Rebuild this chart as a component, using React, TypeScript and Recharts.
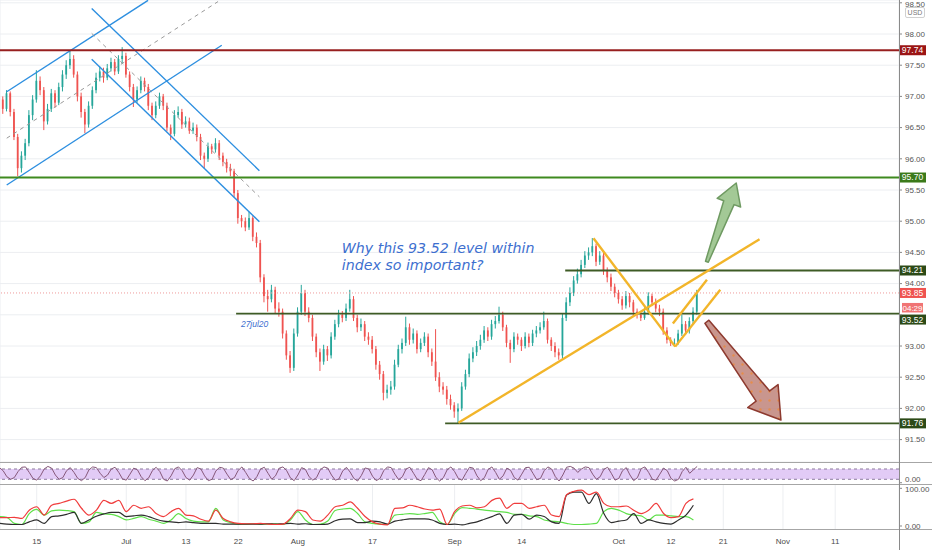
import React from "react";
import {
  ComposedChart,
  LineChart,
  Line,
  Bar,
  XAxis,
  YAxis,
  CartesianGrid,
  ReferenceLine,
  ReferenceDot,
  ReferenceArea,
} from "recharts";

// time axis is in trading days, day 0 = 15 Jun, two candles per day
const FIRST_DAY = -5;
const X_DOMAIN: [number, number] = [-4.92, 115.55];
const tickDays = [0, 12, 20, 27, 35, 45, 56, 65, 78, 85, 92, 100, 107];
const tickLabels = ["15", "Jul", "13", "22", "Aug", "17", "Sep", "14", "Oct", "12", "21", "Nov", "11"];
const priceTicks = [91.5, 92, 92.5, 93, 93.5, 94, 94.5, 95, 95.5, 96, 96.5, 97, 97.5, 98, 98.5];
// tick labels hidden behind the price tags on the right
const coveredTicks = [93.5];

const FIRST_OPEN = 96.9;
const closes = [
  96.95, 96.8, 97.05, 96.75, 96.35, 95.85, 96.05, 96.25, 96.7, 96.95,
  97.25, 97.1, 96.6, 96.8, 97.05, 96.9, 97.15, 97.35, 97.5, 97.6,
  97.35, 97.0, 96.75, 96.55, 96.85, 97.1, 97.3, 97.4, 97.3, 97.45,
  97.55, 97.4, 97.6, 97.65, 97.35, 97.15, 96.95, 97.1, 97.25, 97.15,
  96.85, 96.7, 96.85, 97.0, 96.85, 96.5, 96.4, 96.7, 96.75, 96.55,
  96.6, 96.45, 96.5, 96.35, 96.05, 96.0, 96.2, 96.15, 96.25, 96.05,
  95.95, 95.85, 95.8, 95.45, 95.05, 95.0, 94.9, 95.05, 94.75, 94.65,
  94.1, 93.8, 93.75, 93.9, 93.6, 93.55, 93.2, 92.85, 92.65, 93.2,
  93.55, 93.85, 93.55, 93.45, 93.15, 92.9, 92.75, 92.95, 92.85, 93.15,
  93.35, 93.5, 93.45, 93.6, 93.75, 93.45, 93.3, 93.35, 93.15, 93.1,
  92.95, 92.7, 92.55, 92.25, 92.3, 92.35, 92.7, 92.95, 93.05, 93.3,
  93.1, 93.2, 92.95, 93.05, 93.15, 92.9, 92.75, 92.5, 92.35, 92.3,
  92.15, 92.05, 91.95, 92.0, 92.35, 92.55, 92.8, 92.9, 93.0, 93.1,
  93.25, 93.15, 93.35, 93.4, 93.5, 93.3, 93.05, 92.95, 93.15, 93.1,
  93.0, 93.15, 93.05, 93.2, 93.25, 93.3, 93.4, 93.1, 93.0, 92.9,
  92.85, 93.45, 93.7, 93.85, 94.05, 94.15, 94.3, 94.45, 94.5, 94.6,
  94.35, 94.45, 94.2, 94.1, 93.95, 93.85, 93.75, 93.65, 93.8, 93.7,
  93.55, 93.5, 93.45, 93.55, 93.8, 93.7, 93.6, 93.55, 93.25, 93.1,
  93.05, 93.05, 93.2, 93.35, 93.25, 93.4, 93.55, 93.85,
];
const highs = [
  97.02, 97.0, 97.1, 97.08, 96.8, 96.4, 96.12, 96.32, 96.78, 97.02,
  97.42, 97.32, 97.15, 96.88, 97.12, 97.1, 97.22, 97.42, 97.58, 97.74,
  97.66, 97.4, 97.06, 96.8, 96.92, 97.16, 97.38, 97.48, 97.46, 97.52,
  97.62, 97.6, 97.66, 97.79, 97.7, 97.4, 97.2, 97.16, 97.32, 97.3,
  97.2, 96.9, 96.92, 97.06, 97.04, 96.9, 96.55, 96.78, 96.84, 96.8,
  96.68, 96.66, 96.58, 96.55, 96.4, 96.1, 96.26, 96.24, 96.33, 96.3,
  96.1, 96.0, 95.92, 95.84, 95.5, 95.1, 95.06, 95.15, 95.08, 94.82,
  94.7, 94.15, 93.9, 93.98, 93.95, 93.7, 93.6, 93.25, 92.92, 93.28,
  93.62, 93.98, 93.9, 93.62, 93.5, 93.2, 92.96, 93.02, 93.0, 93.22,
  93.42, 93.58, 93.56, 93.68, 93.9, 93.8, 93.5, 93.44, 93.4, 93.22,
  93.16, 93.0, 92.76, 92.6, 92.38, 92.44, 92.78, 93.02, 93.12, 93.47,
  93.36, 93.28, 93.25, 93.12, 93.22, 93.2, 92.96, 93.27, 92.58, 92.42,
  92.36, 92.22, 92.1, 92.08, 92.42, 92.62, 92.88, 92.98, 93.08, 93.18,
  93.32, 93.3, 93.42, 93.48, 93.63, 93.55, 93.34, 93.1, 93.22, 93.2,
  93.14, 93.22, 93.2, 93.26, 93.32, 93.38, 93.55, 93.44, 93.14, 93.06,
  92.96, 93.52, 93.78, 93.94, 94.12, 94.24, 94.38, 94.52, 94.58, 94.73,
  94.64, 94.52, 94.5, 94.26, 94.16, 94.0, 93.9, 93.8, 93.88, 93.85,
  93.74, 93.6, 93.56, 93.62, 93.86, 93.84, 93.76, 93.66, 93.6, 93.3,
  93.14, 93.12, 93.26, 93.5, 93.4, 93.46, 93.62, 93.9,
];
const lows = [
  96.85, 96.72, 96.76, 96.68, 96.3, 95.72, 95.78, 95.98, 96.2, 96.62,
  96.9, 97.02, 96.46, 96.55, 96.75, 96.82, 96.86, 97.08, 97.28, 97.44,
  97.3, 96.92, 96.66, 96.41, 96.5, 96.8, 97.05, 97.24, 97.22, 97.26,
  97.4, 97.34, 97.36, 97.52, 97.3, 97.08, 96.83, 96.9, 97.05, 97.08,
  96.78, 96.62, 96.65, 96.8, 96.78, 96.44, 96.3, 96.36, 96.66, 96.48,
  96.5, 96.4, 96.4, 96.28, 95.98, 95.85, 95.95, 96.08, 96.1, 95.98,
  95.88, 95.78, 95.72, 95.38, 94.96, 94.9, 94.84, 94.86, 94.68, 94.58,
  94.02, 93.7, 93.55, 93.7, 93.52, 93.47, 93.12, 92.78, 92.57, 92.6,
  93.15, 93.5, 93.48, 93.38, 93.08, 92.82, 92.6, 92.7, 92.76, 92.8,
  93.1, 93.3, 93.38, 93.4, 93.55, 93.4, 93.22, 93.24, 93.08, 93.02,
  92.88, 92.62, 92.46, 92.13, 92.16, 92.22, 92.3, 92.66, 92.88, 93.0,
  93.02, 93.04, 92.88, 92.9, 93.0, 92.82, 92.68, 92.44, 92.26, 92.22,
  92.06, 91.98, 91.85, 91.76, 91.96, 92.3, 92.5, 92.74, 92.84, 92.94,
  93.05, 93.08, 93.1, 93.28, 93.36, 93.24, 92.98, 92.73, 92.9, 93.02,
  92.92, 92.96, 92.98, 93.0, 93.14, 93.2, 93.26, 93.04, 92.92, 92.82,
  92.78, 92.8, 93.4, 93.64, 93.8, 94.0, 94.1, 94.25, 94.38, 94.44,
  94.28, 94.3, 94.14, 94.02, 93.88, 93.78, 93.68, 93.58, 93.6, 93.62,
  93.48, 93.44, 93.4, 93.42, 93.5, 93.64, 93.54, 93.48, 93.18, 93.04,
  93.0, 93.0, 93.02, 93.16, 93.18, 93.2, 93.35, 93.5,
];

// stoch RSI, same two-per-day spacing as the candles
const stochK = [
  88, 70, 35, 20, 30, 65, 90, 92, 60, 25, 15, 40, 80, 95, 85, 45, 20, 30, 70, 88,
  60, 25, 12, 30, 75, 92, 88, 55, 30, 45, 80, 90, 60, 22, 15, 50, 85, 75, 35, 12,
  28, 70, 90, 65, 20, 10, 40, 82, 92, 70, 30, 15, 45, 88, 80, 40, 12, 20, 68, 90,
  85, 50, 18, 30, 72, 92, 60, 25, 10, 35, 80, 90, 55, 20, 40, 85, 92, 70, 28, 12,
  45, 88, 78, 35, 15, 30, 75, 92, 85, 45, 15, 22, 68, 90, 62, 25, 10, 42, 86, 80,
  38, 12, 25, 70, 92, 88, 50, 18, 35, 80, 90, 55, 20, 12, 48, 88, 75, 30, 10, 30,
  75, 92, 65, 25, 15, 55, 90, 85, 40, 12, 30, 78, 92, 60, 20, 40, 85, 72, 30, 15,
  50, 88, 90, 55, 18, 25, 70, 92, 80, 35, 10, 45, 90, 95, 85, 60, 80, 92, 88, 50,
  20, 35, 78, 90, 55, 15, 25, 70, 88, 45, 12, 30, 82, 92, 60, 20, 15, 50, 85, 70,
  25, 10, 20, 65, 90, 55, 75, 95,
];

// DMI, one value per trading day
const diPlus = [
  22, 22, 23, 20, 42, 51, 29, 55, 60, 66, 71, 47, 29, 42, 68, 60, 68, 38, 55, 47,
  51, 33, 25, 38, 47, 29, 27, 18, 13, 42, 20, 11, 7, 6, 6, 7, 5, 4, 5, 20,
  42, 38, 16, 13, 29, 51, 55, 64, 47, 25, 11, 5, 3, 47, 48, 55, 51, 45, 42, 45,
  4, 38, 53, 55, 48, 51, 68, 74, 47, 60, 60, 47, 51, 55, 29, 25, 83, 92, 95, 83,
  90, 60, 51, 51, 53, 42, 33, 42, 60, 33, 22, 25, 60, 72,
];
const diMinus = [
  25, 23, 7, 4, 33, 44, 29, 40, 42, 41, 38, 7, 11, 36, 32, 31, 25, 16, 20, 25,
  18, 13, 7, 16, 33, 20, 13, 11, 11, 47, 16, 9, 5, 5, 6, 5, 5, 6, 4, 16,
  38, 16, 4, 5, 13, 41, 45, 47, 33, 11, 7, 5, 4, 29, 31, 33, 31, 33, 36, 11,
  4, 33, 49, 47, 45, 42, 40, 38, 36, 31, 31, 27, 25, 16, 13, 11, 7, 4, 4, 5,
  7, 38, 47, 42, 33, 29, 27, 16, 29, 29, 27, 25, 25, 16,
];
const adx = [
  7, 5, 4, 4, 11, 16, 7, 25, 27, 31, 36, 7, 16, 26, 32, 36, 36, 25, 27, 29,
  25, 18, 13, 11, 9, 11, 9, 7, 7, 7, 5, 5, 5, 5, 5, 5, 6, 5, 6, 7,
  5, 6, 4, 4, 5, 14, 18, 19, 9, 9, 13, 11, 5, 13, 16, 19, 19, 19, 16, 7,
  4, 5, 3, 7, 11, 18, 25, 32, 7, 29, 31, 18, 29, 25, 11, 7, 82, 90, 90, 60,
  86, 33, 9, 13, 16, 33, 7, 16, 11, 7, 5, 16, 29, 55,
];

// drawn levels and trend lines, in (day, price)
const blueLines = [
  [[-4.02, 97.075], [14.92, 98.54]],
  [[-4.02, 95.58], [24.8, 97.82]],
  [[7.37, 98.41], [29.84, 95.81]],
  [[7.37, 97.595], [29.84, 94.99]],
];
const greyDashed = [
  [[-4.02, 96.33], [24.3, 98.52]],
  [[7.37, 98.01], [29.84, 95.39]],
];
const yellowLines = [
  [[56.51, 91.77], [96.86, 94.71]],
  [[74.61, 94.726], [85.56, 92.99]],
  [[85.56, 92.99], [91.6, 93.9]],
  [[85.25, 93.36], [89.81, 94.06]],
];
const levelStarts = { l9421: 70.82, l9352: 26.72, l9176: 54.73 };
const greenArrow = [[89.81, 94.351], [93.74, 95.612]];
const redArrow = [[89.81, 93.389], [99.73, 91.814]];

const candles = closes.map((c, i) => {
  const o = i === 0 ? FIRST_OPEN : closes[i - 1];
  return { t: FIRST_DAY + i / 2, o, c, h: highs[i], l: lows[i], range: [lows[i], highs[i]] };
});
const stochData = stochK.map((k, i) => ({ t: FIRST_DAY + i / 2, k }));
const dmiData = diPlus.map((v, i) => ({ t: FIRST_DAY + i, p: v, m: diMinus[i], a: adx[i] }));

const AXIS_FONT = "'Liberation Sans', Arial, sans-serif";
const GRID = "#eceef1";
const W = 932;
const AXIS_W = 33;

const Candle = (props: any) => {
  const { x, y, width, height, payload } = props;
  if (height == null || isNaN(y)) return null;
  const { o, c, h, l } = payload;
  const color = c >= o ? "#26a69a" : "#ef5350";
  const span = h - l || 1;
  const py = (v: number) => y + ((h - v) / span) * height;
  const cx = x + width / 2;
  const top = py(Math.max(o, c));
  const bot = py(Math.min(o, c));
  return (
    <g>
      <line x1={cx} x2={cx} y1={y} y2={y + height} stroke={color} strokeWidth={1} />
      <rect x={cx - 0.9} y={top} width={1.8} height={Math.max(bot - top, 1)} fill={color} />
    </g>
  );
};

const PriceTag = ({ viewBox, text, bg, dy = 0, sub, subBg }: any) => {
  if (!viewBox) return null;
  const right = viewBox.x + viewBox.width;
  const cy = viewBox.y + dy;
  return (
    <g>
      <rect x={right} y={cy - 5} width={27} height={10} fill={bg} />
      <text x={right + 13.5} y={cy} dy="0.35em" textAnchor="middle" fontSize={8.5} fill="#fff" fontFamily={AXIS_FONT}>
        {text}
      </text>
      {sub ? (
        <g>
          <rect x={right + 3} y={cy + 10} width={21} height={9.5} fill={subBg} />
          <text x={right + 13.5} y={cy + 14.8} dy="0.35em" textAnchor="middle" fontSize={8} fill="#fff" fontFamily={AXIS_FONT}>
            {sub}
          </text>
        </g>
      ) : null}
    </g>
  );
};

const arrowShape = (tail: number, neck: number, head: number, headLen: number, fill: string, stroke: string, dots: boolean) => (props: any) => {
  const { x1, y1, x2, y2 } = props;
  if (x1 == null) return null;
  const dx = x2 - x1;
  const dy = y2 - y1;
  const len = Math.hypot(dx, dy);
  const ux = dx / len;
  const uy = dy / len;
  const nx = -uy;
  const ny = ux;
  const bx = x2 - ux * headLen;
  const by = y2 - uy * headLen;
  const pts = [
    [x1 + (nx * tail) / 2, y1 + (ny * tail) / 2],
    [bx + (nx * neck) / 2, by + (ny * neck) / 2],
    [bx + (nx * head) / 2, by + (ny * head) / 2],
    [x2, y2],
    [bx - (nx * head) / 2, by - (ny * head) / 2],
    [bx - (nx * neck) / 2, by - (ny * neck) / 2],
    [x1 - (nx * tail) / 2, y1 - (ny * tail) / 2],
  ];
  const d = pts.map((p, i) => `${i ? "L" : "M"}${p[0]},${p[1]}`).join(" ") + " Z";
  return (
    <g>
      {dots ? (
        <defs>
          <pattern id="arrowDots" width="9" height="9" patternUnits="userSpaceOnUse">
            <rect width="9" height="9" fill={fill} />
            <circle cx="4.5" cy="4.5" r="1.2" fill="#e0782f" />
          </pattern>
        </defs>
      ) : null}
      <path d={d} fill={dots ? "url(#arrowDots)" : fill} fillOpacity={0.85} stroke={stroke} strokeWidth={1.5} strokeLinejoin="round" />
    </g>
  );
};

const NoteText = ({ viewBox }: any) => {
  if (!viewBox) return null;
  return (
    <text x={viewBox.x} y={viewBox.y} fontSize={14.2} fontStyle="italic" fill="#3d6fcf" fontFamily="'DejaVu Sans', sans-serif">
      <tspan x={viewBox.x} y={viewBox.y}>Why this 93.52 level within</tspan>
      <tspan x={viewBox.x} y={viewBox.y + 16.7}>index so important?</tspan>
    </text>
  );
};

const seg = (s: number[][]) => [
  { x: s[0][0], y: s[0][1] },
  { x: s[1][0], y: s[1][1] },
];

const yTick = { fontSize: 8, fill: "#555", fontFamily: AXIS_FONT };

export default function App() {
  return (
    <div style={{ position: "absolute", left: 0, top: 0, width: W, height: 550, background: "#fff", overflow: "hidden" }}>
      <ComposedChart width={W} height={462} data={candles} margin={{ top: 0, right: 0, bottom: 0, left: 0 }}>
        <CartesianGrid stroke={GRID} />
        <XAxis
          dataKey="t"
          type="number"
          domain={X_DOMAIN}
          ticks={tickDays}
          allowDataOverflow
          height={0}
          tick={false}
          axisLine={false}
          tickLine={false}
        />
        <YAxis
          orientation="right"
          width={AXIS_W}
          type="number"
          domain={[91.141, 98.545]}
          allowDataOverflow
          ticks={priceTicks}
          tickFormatter={(v: number) => (coveredTicks.includes(v) ? "" : v.toFixed(2))}
          tick={yTick}
          axisLine={false}
          tickLine={{ stroke: "#888" }}
          tickSize={3}
          tickMargin={3}
        />
        <Bar dataKey="range" barSize={3} shape={<Candle />} isAnimationActive={false} />

        {blueLines.map((s, i) => (
          <ReferenceLine key={"b" + i} segment={seg(s)} stroke="#2d8fe0" strokeWidth={1.4} ifOverflow="visible" />
        ))}
        {greyDashed.map((s, i) => (
          <ReferenceLine key={"g" + i} segment={seg(s)} stroke="#9a9a9a" strokeWidth={1} strokeDasharray="4 4" ifOverflow="visible" />
        ))}

        <ReferenceLine y={93.85} stroke="#ef9a9a" strokeDasharray="1 2" strokeWidth={1}
          label={(p: any) => <PriceTag viewBox={p.viewBox} text="93.85" bg="#ef5350" sub="04:29" subBg="#f07474" />} />
        <ReferenceLine y={97.74} stroke="#971f1f" strokeWidth={2}
          label={(p: any) => <PriceTag viewBox={p.viewBox} text="97.74" bg="#9b1515" />} />
        <ReferenceLine y={95.7} stroke="#3f8a1f" strokeWidth={1.8}
          label={(p: any) => <PriceTag viewBox={p.viewBox} text="95.70" bg="#3b7a1a" />} />
        <ReferenceLine segment={[{ x: levelStarts.l9421, y: 94.21 }, { x: X_DOMAIN[1], y: 94.21 }]} stroke="#3e5b25" strokeWidth={1.8}
          label={(p: any) => <PriceTag viewBox={p.viewBox} text="94.21" bg="#2c4a17" />} />
        <ReferenceLine segment={[{ x: levelStarts.l9352, y: 93.52 }, { x: X_DOMAIN[1], y: 93.52 }]} stroke="#3e5b25" strokeWidth={1.8}
          label={(p: any) => <PriceTag viewBox={p.viewBox} text="93.52" bg="#2c4a17" dy={6} />} />
        <ReferenceLine segment={[{ x: levelStarts.l9176, y: 91.76 }, { x: X_DOMAIN[1], y: 91.76 }]} stroke="#3e5b25" strokeWidth={1.8}
          label={(p: any) => <PriceTag viewBox={p.viewBox} text="91.76" bg="#2c4a17" />} />

        {yellowLines.map((s, i) => (
          <ReferenceLine key={"y" + i} segment={seg(s)} stroke="#f2b52a" strokeWidth={2.4} ifOverflow="visible" />
        ))}

        <ReferenceLine segment={seg(greenArrow)} ifOverflow="visible"
          shape={arrowShape(3, 11, 25, 21, "#93bf84", "#6f9a62", false)} />
        <ReferenceLine segment={seg(redArrow)} ifOverflow="visible"
          shape={arrowShape(5, 17, 38, 30, "#c0847a", "#8d3a2f", true)} />

        <ReferenceDot x={40.88} y={94.486} r={0} ifOverflow="visible" stroke="none" fill="none"
          label={(p: any) => <NoteText viewBox={p.viewBox} />} />
        <ReferenceDot x={29.2} y={93.35} r={0} ifOverflow="visible" stroke="none" fill="none"
          label={{ value: "27jul20", position: "center", fontSize: 8.5, fontStyle: "italic", fill: "#3d6fcf", fontFamily: AXIS_FONT }} />
      </ComposedChart>

      <div style={{ height: 1, background: "#a6a6a6" }} />

      <LineChart width={W} height={21} data={stochData} margin={{ top: 0, right: 0, bottom: 0, left: 0 }}>
        <CartesianGrid stroke={GRID} horizontal={false} />
        <XAxis dataKey="t" type="number" domain={X_DOMAIN} ticks={tickDays} allowDataOverflow height={0} tick={false} axisLine={false} tickLine={false} />
        <YAxis orientation="right" width={AXIS_W} type="number" domain={[-7.4, 114.9]} allowDataOverflow ticks={[0]}
          tickFormatter={(v: number) => v.toFixed(2)} tick={yTick} axisLine={false} tickLine={{ stroke: "#888" }} tickSize={3} tickMargin={3} />
        <ReferenceArea y1={20} y2={80} fill="#e2cbf6" fillOpacity={1} stroke="none" ifOverflow="visible" />
        <ReferenceLine y={80} stroke="#8c7c9c" strokeDasharray="3 3" />
        <ReferenceLine y={20} stroke="#8c7c9c" strokeDasharray="3 3" />
        <Line type="linear" dataKey="k" stroke="#86587a" strokeWidth={1} dot={false} isAnimationActive={false} />
      </LineChart>

      <div style={{ height: 1, background: "#a6a6a6" }} />

      <LineChart width={W} height={65} data={dmiData} margin={{ top: 0, right: 0, bottom: 0, left: 0 }}>
        <CartesianGrid stroke={GRID} horizontal={false} />
        <XAxis
          dataKey="t"
          type="number"
          domain={X_DOMAIN}
          ticks={tickDays}
          allowDataOverflow
          height={21}
          tickFormatter={(v: number) => tickLabels[tickDays.indexOf(v)]}
          tick={{ fontSize: 8, fill: "#4a4a4a", fontFamily: AXIS_FONT }}
          axisLine={false}
          tickLine={false}
          tickSize={0}
          tickMargin={9}
          interval={0}
        />
        <YAxis orientation="right" width={AXIS_W} type="number" domain={[-8, 108.8]} allowDataOverflow ticks={[0, 100]}
          tickFormatter={(v: number) => v.toFixed(2)} tick={yTick} axisLine={false} tickLine={{ stroke: "#888" }} tickSize={3} tickMargin={3} />
        <Line type="monotone" dataKey="m" stroke="#5fe04a" strokeWidth={1.2} dot={false} isAnimationActive={false} />
        <Line type="monotone" dataKey="a" stroke="#2e2e2e" strokeWidth={1.2} dot={false} isAnimationActive={false} />
        <Line type="monotone" dataKey="p" stroke="#f03c3c" strokeWidth={1.2} dot={false} isAnimationActive={false} />
      </LineChart>

      <div style={{ position: "absolute", left: 0, top: 529, width: W, height: 1, background: "#a6a6a6" }} />
      <div style={{ position: "absolute", left: W - AXIS_W, top: 0, width: 1, height: 550, background: "#8a8a8a" }} />
      <div
        style={{
          position: "absolute",
          left: 905,
          top: 7,
          width: 18,
          height: 9,
          border: "1px solid #d0d0d0",
          borderRadius: 2,
          background: "#fff",
          fontSize: 7,
          lineHeight: "9px",
          textAlign: "center",
          color: "#777",
          fontFamily: AXIS_FONT,
        }}
      >
        USD
      </div>
    </div>
  );
}
